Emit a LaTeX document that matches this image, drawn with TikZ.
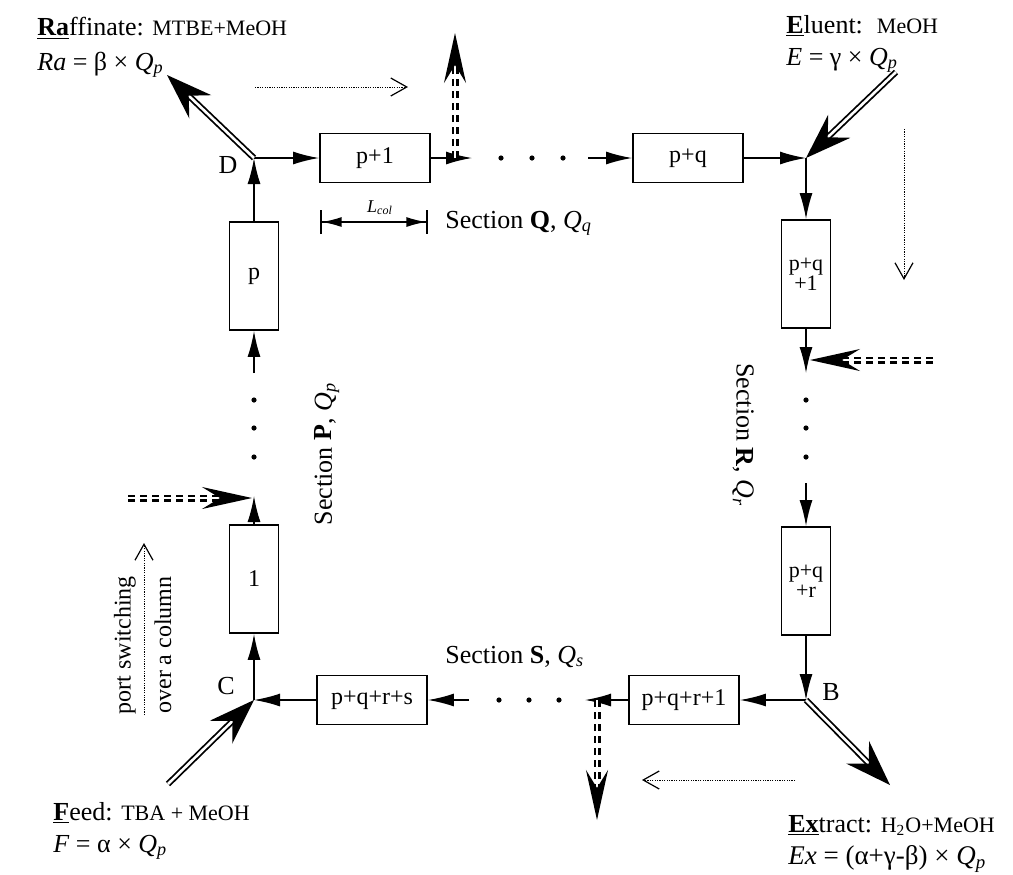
\documentclass[tikz,border=0pt]{standalone}
\usepackage{fontspec}
\setmainfont{Liberation Serif}
\usetikzlibrary{positioning,calc,arrows.meta}

\newcommand\flowQ[1]{\textit{Q}\textsubscript{\textit{#1}}}
\newcommand\chem[1]{{\fontsize{11}{13}\selectfont #1}}

\begin{document}
\begin{tikzpicture}[
    x=0.5pt, y=-0.5pt,
    hcol/.style={draw, line width=0.9pt, minimum width=55pt, minimum height=24.5pt, inner sep=0pt, font=\fontsize{12}{12}\selectfont},
    vcol/.style={draw, line width=0.9pt, minimum width=24.5pt, minimum height=54pt, inner sep=0pt, align=center, font=\fontsize{11}{10}\selectfont},
    flow/.style={-{Latex[length=13pt, width=6.5pt]}, line width=0.8pt},
    port/.style={double, line width=0.9pt, double distance=1.3pt, -{Stealth[length=23pt, width=16pt, inset=8pt]}},
    nextport/.style={double, line width=1.2pt, double distance=1.1pt, dash pattern=on 3.5pt off 2.5pt, -{Stealth[length=25pt, width=11pt, inset=9pt]}},
    switch/.style={line width=0.5pt, dash pattern=on 0.6pt off 0.6pt, -{Straight Barb[length=8pt, width=9pt, line width=0.6pt]}},
    lbl/.style={inner sep=0pt, anchor=base west, font=\fontsize{13}{16}\selectfont},
    sect/.style={inner sep=0pt, font=\fontsize{13}{16}\selectfont}
  ]
  \useasboundingbox (0,0) rectangle (1013,874);

  % junctions of the ring
  \coordinate (D) at (254,158);
  \coordinate (jE) at (806,158);
  \coordinate (B) at (806,700);
  \coordinate (C) at (254,700);

  % columns
  \node[hcol] (pone) at (375,158) {p+1};
  \node[hcol] (pq) at (688,158) {p+q};
  \node[vcol] (pqone) at (806,274) {p+q\\+1};
  \node[vcol] (pqr) at (806,581) {p+q\\+r};
  \node[hcol] (pqrone) at (684,700) {p+q+r+1};
  \node[hcol] (pqrs) at (372,700) {p+q+r+s};
  \node[vcol, font=\fontsize{12}{12}\selectfont] (one) at (254,579) {1};
  \node[vcol, font=\fontsize{12}{12}\selectfont] (p) at (254,276) {p};

  % free ends beside the dots
  \coordinate (qend) at (472,158);
  \coordinate (qstart) at (588,158);
  \coordinate (rend) at (806,373);
  \coordinate (rstart) at (806,483);
  \coordinate (send) at (585,700);
  \coordinate (sstart) at (469,700);
  \coordinate (pend) at (254,496);
  \coordinate (pstart) at (254,373);

  \draw[flow] (p.north) -- (D);
  \draw[flow] (D) -- (pone.west);
  \draw[flow] (pone.east) -- (qend);
  \draw[flow] (qstart) -- (pq.west);
  \draw[flow] (pq.east) -- (jE);
  \draw[flow] (jE) -- (pqone.north);
  \draw[flow] (pqone.south) -- (rend);
  \draw[flow] (rstart) -- (pqr.north);
  \draw[flow] (pqr.south) -- (B);
  \draw[flow] (B) -- (pqrone.east);
  \draw[flow] (pqrone.west) -- (send);
  \draw[flow] (sstart) -- (pqrs.east);
  \draw[flow] (pqrs.west) -- (C);
  \draw[flow] (C) -- (one.south);
  \draw[flow] (one.north) -- (pend);
  \draw[flow] (pstart) -- (p.south);

  % dots
  \foreach \s in {501,532,563} \fill (\s,158) circle (1.3pt);
  \foreach \s in {400,428,457} \fill (806,\s) circle (1.3pt);
  \foreach \s in {499,529,559} \fill (\s,700) circle (1.3pt);
  \foreach \s in {400,428,457} \fill (254,\s) circle (1.3pt);

  % inlet and outlet ports
  \coordinate (ra) at (167,75);
  \coordinate (el) at (896,72);
  \coordinate (ex) at (890,785);
  \coordinate (fe) at (168,784);
  \draw[port] (D) -- (ra);
  \draw[port] (el) -- (jE);
  \draw[port] (B) -- (ex);
  \draw[port] (fe) -- (C);

  % ports after switching
  \coordinate (nqa) at (455,158);
  \coordinate (nqb) at (455,33);
  \coordinate (nra) at (933,360);
  \coordinate (nrb) at (810,360);
  \coordinate (nsa) at (597,700);
  \coordinate (nsb) at (597,820);
  \coordinate (npa) at (128,498);
  \coordinate (npb) at (252,498);
  \draw[nextport] (nqa) -- (nqb);
  \draw[nextport] (nra) -- (nrb);
  \draw[nextport] (nsa) -- (nsb);
  \draw[nextport] (npa) -- (npb);

  % switching direction
  \coordinate (swqa) at (255,87);
  \coordinate (swqb) at (408,87);
  \coordinate (swra) at (904,129);
  \coordinate (swrb) at (904,280);
  \coordinate (swsa) at (795,780);
  \coordinate (swsb) at (642,780);
  \coordinate (swpa) at (144,715);
  \coordinate (swpb) at (144,543);
  \draw[switch] (swqa) -- (swqb);
  \draw[switch] (swra) -- (swrb);
  \draw[switch] (swsa) -- (swsb);
  \draw[switch] (swpa) -- (swpb);

  % column length
  \coordinate (la) at (320,222);
  \coordinate (lb) at (428,222);
  \draw[line width=0.8pt, {Bar[width=12pt]Latex[length=10pt, width=5pt]}-{Latex[length=10pt, width=5pt]Bar[width=12pt]}] (la) -- (lb);
  \node[inner sep=0pt, font=\fontsize{9}{9}\selectfont, anchor=base] (lcol) at (380,212) {\textit{L}\textsubscript{\textit{col}}};

  % node letters
  \node[sect] (lD) at (228,165) {D};
  \node[sect] (lC) at (226,686) {C};
  \node[sect] (lB) at (831,692) {B};

  % sections
  \node[lbl] (secQ) at (445,228) {Section \textbf{Q}, \flowQ{q}};
  \node[sect, rotate=-90] (secR) at (743,435) {Section \textbf{R}, \flowQ{r}};
  \node[lbl] (secS) at (445,663) {Section \textbf{S}, \flowQ{s}};
  \node[sect, rotate=90] (secP) at (327,454) {Section \textbf{P}, \flowQ{p}};

  % port switching note
  \node[sect, font=\fontsize{12}{12}\selectfont, rotate=90] (swtxt) at (125,645) {port switching};
  \node[sect, font=\fontsize{12}{12}\selectfont, rotate=90] (swtxtb) at (163,645) {over a column};

  % streams
  \node[lbl] (raff) at (37,35) {\underline{\textbf{Ra}}ffinate: \chem{MTBE+MeOH}};
  \node[lbl] (raffQ) at (37,70) {\textit{Ra} = β × \flowQ{p}};
  \node[lbl] (elu) at (786,33) {\underline{\textbf{E}}luent:\hspace{7pt}\chem{MeOH}};
  \node[lbl] (eluQ) at (786,65) {\textit{E} = γ × \flowQ{p}};
  \node[lbl] (feed) at (53,820) {\underline{\textbf{F}}eed: \chem{TBA + MeOH}};
  \node[lbl] (feedQ) at (53,852) {\textit{F} = α × \flowQ{p}};
  \node[lbl] (extr) at (788,832) {\underline{\textbf{Ex}}tract: \chem{H\textsubscript{2}O+MeOH}};
  \node[lbl, font=\fontsize{13.5}{16}\selectfont] (extrQ) at (788,864) {\textit{Ex} = (α+γ-β) × \flowQ{p}};
\end{tikzpicture}
\end{document}
